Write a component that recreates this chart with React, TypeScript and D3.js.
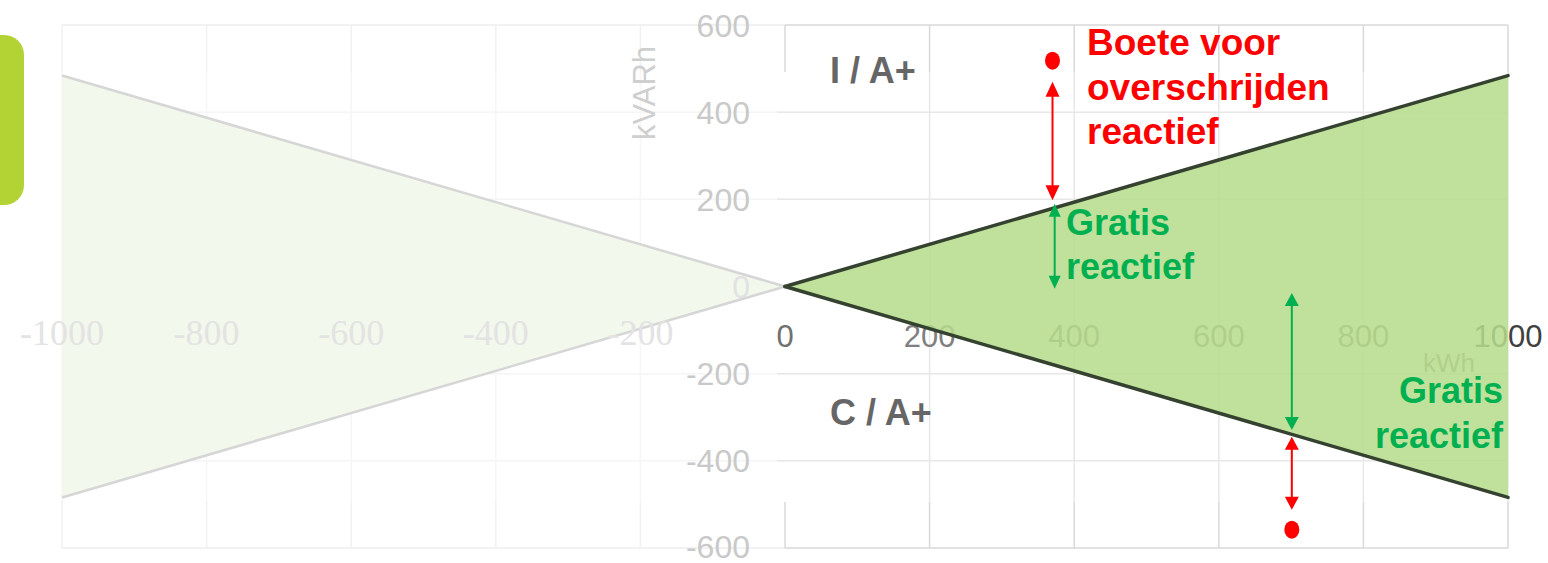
import React from "react";
import * as d3 from "d3";

// ---- data ----
const xTicksRight = [0, 200, 400, 600, 800, 1000];
const xTicksLeft = [-1000, -800, -600, -400, -200];
const yTicks = [600, 400, 200, 0, -200, -400, -600];
const yGridTicks = [400, 200, -200, -400];

// cos(phi) = 0.9 limit lines (kVARh vs kWh)
const limitKwh = [0, 1000];
const upperLimit = [0, 484];
const lowerLimit = [0, -484];
const mirrorKwh = [-1000, 0];
const mirrorUpper = [484, 0];
const mirrorLower = [-484, 0];

// annotations (data units)
const penaltyTopX = 370;
const penaltyTop = { dot: 518, from: 470, to: 198 };
const freeTop = { x: 373, from: 190, to: -5 };
const penaltyBottomX = 701;
const freeBottom = { from: -15, to: -329 };
const penaltyBottom = { from: -345, to: -512, dot: -558 };

const FONT = "'Liberation Sans', Arial, sans-serif";

function Arrow({ x, y1, y2, color, head = 14, hw = 7, sw = 2 }: any) {
  return (
    <g>
      <line x1={x} x2={x} y1={y1 + head - 1} y2={y2 - head + 1} stroke={color} strokeWidth={sw} />
      <polygon points={`${x},${y1} ${x - hw},${y1 + head} ${x + hw},${y1 + head}`} fill={color} />
      <polygon points={`${x},${y2} ${x - hw},${y2 - head} ${x + hw},${y2 - head}`} fill={color} />
    </g>
  );
}

export default function App() {
  const W = 1548;
  const H = 563;
  const x = d3.scaleLinear().domain([0, 1000]).range([785, 1508]);
  const y = d3.scaleLinear().domain([-600, 600]).range([548, 25]);

  const area = d3
    .area<number>()
    .x((_, i) => x(limitKwh[i]))
    .y0((_, i) => y(lowerLimit[i]))
    .y1((_, i) => y(upperLimit[i]));
  const mirrorArea = d3
    .area<number>()
    .x((_, i) => x(mirrorKwh[i]))
    .y0((_, i) => y(mirrorLower[i]))
    .y1((_, i) => y(mirrorUpper[i]));
  const line = (xs: number[], ys: number[]) =>
    d3.line<number>().x((_, i) => x(xs[i])).y((_, i) => y(ys[i]))(xs) as string;

  const bandTop = 72;
  const bandBottom = 502;
  const gridC = "#d9d9d9";

  const red = "#ff0000";
  const green = "#00b050";

  return (
    <svg
      width={W}
      height={H}
      style={{ position: "absolute", left: 0, top: 0, fontFamily: FONT }}
    >
      <rect x={0} y={0} width={W} height={H} fill="#ffffff" />

      {/* faded mirror chart grid */}
      {xTicksLeft.map((t) => (
        <line key={"vl" + t} x1={x(t)} x2={x(t)} y1={y(600)} y2={y(-600)} stroke="#f1f1f1" strokeWidth={1.5} />
      ))}
      {[600, ...yGridTicks, -600].map((t) => (
        <line key={"hl" + t} x1={x(-1000)} x2={x(0)} y1={y(t)} y2={y(t)} stroke="#eeeeee" strokeWidth={1.5} />
      ))}

      {/* right panel grid */}
      {xTicksRight.slice(1, -1).map((t) => (
        <line key={"vr" + t} x1={x(t)} x2={x(t)} y1={y(600)} y2={y(-600)} stroke={gridC} strokeWidth={1.5} />
      ))}
      {yGridTicks.map((t) => (
        <line key={"hr" + t} x1={x(0) - 8} x2={x(1000)} y1={y(t)} y2={y(t)} stroke={gridC} strokeWidth={1.5} />
      ))}
      <line x1={x(0)} x2={x(1000)} y1={y(600)} y2={y(600)} stroke={gridC} strokeWidth={1.5} />
      <line x1={x(0)} x2={x(1000)} y1={y(-600)} y2={y(-600)} stroke={gridC} strokeWidth={1.5} />
      <line x1={x(1000)} x2={x(1000)} y1={y(600)} y2={y(-600)} stroke={gridC} strokeWidth={1.5} />
      <line x1={x(0)} x2={x(0)} y1={y(600)} y2={bandTop} stroke={gridC} strokeWidth={1.5} />
      <line x1={x(0)} x2={x(0)} y1={bandBottom} y2={y(-600)} stroke={gridC} strokeWidth={1.5} />

      {/* translucent band of the overlaid picture */}
      <rect x={0} y={bandTop} width={x(1000) + 2} height={bandBottom - bandTop} fill="#ffffff" opacity={0.4} />

      {/* lime tab */}
      <rect x={-40} y={35} width={64} height={170} rx={20} fill="#b3d234" />

      {/* mirror (faded) area */}
      <path d={mirrorArea(mirrorKwh) as string} fill="#f3f8ec" />
      <path d={line(mirrorKwh, mirrorUpper)} fill="none" stroke="#d6d6d6" strokeWidth={2.5} />
      <path d={line(mirrorKwh, mirrorLower)} fill="none" stroke="#d6d6d6" strokeWidth={2.5} />

      {/* y tick labels */}
      {yTicks.map((t) => (
        <text
          key={"yt" + t}
          x={750}
          y={y(t) - (t === -600 ? 2 : 0)}
          dy="0.36em"
          textAnchor="end"
          fontSize={32}
          fill={t === 0 ? "#e2e2e2" : "#c9c9c9"}
        >
          {t}
        </text>
      ))}

      {/* left faded x tick labels */}
      {xTicksLeft.map((t) => (
        <text
          key={"xl" + t}
          x={x(t)}
          y={345}
          textAnchor="middle"
          fontSize={36}
          fontFamily="'Liberation Serif', serif"
          fill="#e3e3e3"
        >
          {t}
        </text>
      ))}

      {/* right x tick labels */}
      {xTicksRight.map((t) => (
        <text
          key={"xr" + t}
          x={x(t)}
          y={347}
          textAnchor="middle"
          fontSize={31}
          fill={t === 1000 ? "#404040" : t === 0 ? "#707070" : "#7f7f7f"}
        >
          {t}
        </text>
      ))}

      {/* axis titles */}
      <text
        transform={`translate(655,93) rotate(-90)`}
        textAnchor="middle"
        fontSize={31}
        fill="#cfcfcf"
      >
        kVARh
      </text>
      <text x={1449} y={372} textAnchor="middle" fontSize={26} fill="#8a8a8a">
        kWh
      </text>

      {/* allowed zone */}
      <path d={area(limitKwh) as string} fill="#b6dc8b" opacity={0.86} />
      <path d={line(limitKwh, upperLimit)} fill="none" stroke="#34422f" strokeWidth={3.5} strokeLinecap="round" />
      <path d={line(limitKwh, lowerLimit)} fill="none" stroke="#34422f" strokeWidth={3.5} strokeLinecap="round" />

      {/* quadrant labels */}
      <text x={830} y={83} fontSize={36} fontWeight="bold" fill="#666666">
        I / A+
      </text>
      <text x={830} y={425} fontSize={36} fontWeight="bold" fill="#666666">
        C / A+
      </text>

      {/* top annotations */}
      <ellipse cx={x(penaltyTopX)} cy={y(penaltyTop.dot)} rx={7.5} ry={9} fill={red} />
      <Arrow x={x(penaltyTopX)} y1={y(penaltyTop.from)} y2={y(penaltyTop.to)} color={red} head={15} hw={7} />
      <Arrow x={x(freeTop.x)} y1={y(freeTop.from)} y2={y(freeTop.to)} color={green} head={13} hw={6} />
      <text fontSize={37} fontWeight="bold" fill={red}>
        <tspan x={1087} y={55}>Boete voor</tspan>
        <tspan x={1087} y={100}>overschrijden</tspan>
        <tspan x={1087} y={144}>reactief</tspan>
      </text>
      <text fontSize={36} fontWeight="bold" fill={green}>
        <tspan x={1066} y={235}>Gratis</tspan>
        <tspan x={1066} y={279}>reactief</tspan>
      </text>

      {/* bottom annotations */}
      <Arrow x={x(penaltyBottomX)} y1={y(freeBottom.from)} y2={y(freeBottom.to)} color={green} head={13} hw={7} />
      <Arrow x={x(penaltyBottomX)} y1={y(penaltyBottom.from)} y2={y(penaltyBottom.to)} color={red} head={13} hw={7} />
      <ellipse cx={x(penaltyBottomX)} cy={y(penaltyBottom.dot)} rx={7.5} ry={9} fill={red} />
      <text fontSize={36} fontWeight="bold" fill={green} textAnchor="end">
        <tspan x={1503} y={403}>Gratis</tspan>
        <tspan x={1503} y={448}>reactief</tspan>
      </text>
    </svg>
  );
}
